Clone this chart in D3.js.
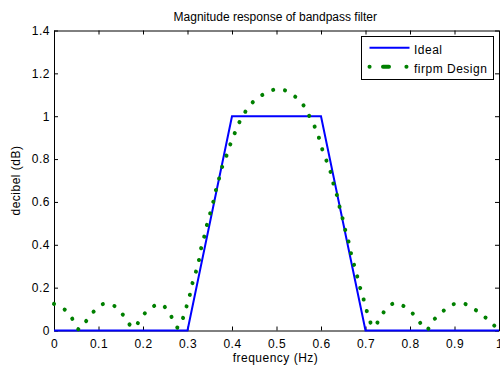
<!DOCTYPE html>
<html>
<head>
<meta charset="utf-8">
<script src="https://cdn.jsdelivr.net/npm/d3@7"></script>
<style>
    body { margin: 0; background: #fff; }
    svg { font-family: "Liberation Sans", Arial, sans-serif; }
    .axis text { font-size: 12px; fill: #000; letter-spacing: 0.5px; }
    .axis path, .axis line { stroke: #000; }
</style>
</head>
<body>
<svg id="filter-vis" width="500" height="368">
    <g id="x-axis" class="axis"></g>
    <g id="y-axis" class="axis"></g>
    <g id="x-axis-top" class="axis"></g>
    <g id="y-axis-right" class="axis"></g>
</svg>
<script>
// ideal bandpass response
const idealFreq = [0, 0.3, 0.4, 0.6, 0.7, 1];
const idealMag = [0, 0, 1, 1, 0, 0];

// firpm design
const firpmFreq = [0, 0.025, 0.042, 0.056, 0.073, 0.09, 0.111, 0.136, 0.154, 0.169, 0.177, 0.184,
    0.199, 0.218, 0.24, 0.26, 0.265, 0.278, 0.288, 0.296, 0.304, 0.31, 0.318, 0.325, 0.330,
    0.337, 0.343, 0.351, 0.358, 0.364, 0.371, 0.378, 0.388, 0.397, 0.407, 0.418, 0.431, 0.448,
    0.468, 0.491, 0.505, 0.52, 0.545, 0.563, 0.575, 0.587, 0.596, 0.604, 0.614, 0.623, 0.629,
    0.637, 0.643, 0.650, 0.656, 0.664, 0.669, 0.677, 0.684, 0.691, 0.699, 0.706, 0.718, 0.729,
    0.743, 0.764, 0.781, 0.802, 0.820, 0.837, 0.852, 0.872, 0.892, 0.918, 0.941, 0.963, 0.980, 1];
const firpmMag = [0.124, 0.096, 0.052, 0.005, 0.046, 0.09, 0.124, 0.114, 0.076, 0.03, 0.012, 0.022,
    0.068, 0.106, 0.123, 0.08, 0.06, 0.013, 0.048, 0.1, 0.155, 0.212, 0.267, 0.321, 0.379,
    0.433, 0.488, 0.547, 0.601, 0.656, 0.71, 0.764, 0.818, 0.873, 0.925, 0.978, 1.024, 1.068,
    1.099, 1.122, 1.125, 1.12, 1.086, 1.044, 0.995, 0.946, 0.895, 0.838, 0.783, 0.730, 0.676,
    0.622, 0.566, 0.511, 0.456, 0.399, 0.344, 0.287, 0.232, 0.176, 0.124, 0.068, 0.015, 0.044,
    0.091, 0.127, 0.119, 0.088, 0.044, 0.002, 0.046, 0.086, 0.118, 0.127, 0.104, 0.072, 0.041, 0.002];

const xTicks = [0, 0.1, 0.2, 0.3, 0.4, 0.5, 0.6, 0.7, 0.8, 0.9, 1];
const yTicks = [0, 0.2, 0.4, 0.6, 0.8, 1, 1.2, 1.4];
const legendLabels = ["Ideal", "firpm Design"];

class FilterPlot {
    constructor() {
        this.svg = d3.select("svg#filter-vis");
        this.bounds = {
            minX: 54,
            maxX: 499,
            minY: 30.5,
            maxY: 330.5,
        };

        this.updateXScale();
        this.updateYScale();
        this.updateAxes();
        this.updateLabels();
        this.updateLines();
        this.updateLegend();
    }

    updateXScale() {
        this.scaleX = d3.scaleLinear().domain([0, 1]).range([this.bounds.minX, this.bounds.maxX]);
    }

    updateYScale() {
        this.scaleY = d3.scaleLinear().domain([0, 1.4]).range([this.bounds.maxY, this.bounds.minY]);
    }

    updateAxes() {
        let b = this.bounds;
        let fmt = d => d3.format("")(d);

        this.svg.select("g#x-axis")
            .attr("transform", `translate(0 ${b.maxY})`)
            .call(d3.axisBottom(this.scaleX).tickValues(xTicks).tickFormat(fmt)
                .tickSizeInner(-4).tickSizeOuter(0).tickPadding(8.5));

        this.svg.select("g#y-axis")
            .attr("transform", `translate(${b.minX} 0)`)
            .call(d3.axisLeft(this.scaleY).tickValues(yTicks).tickFormat(fmt)
                .tickSizeInner(-4).tickSizeOuter(0).tickPadding(4));

        this.svg.select("g#x-axis-top")
            .attr("transform", `translate(0 ${b.minY})`)
            .call(d3.axisTop(this.scaleX).tickValues(xTicks).tickFormat("")
                .tickSizeInner(-4).tickSizeOuter(0));

        this.svg.select("g#y-axis-right")
            .attr("transform", `translate(${b.maxX} 0)`)
            .call(d3.axisRight(this.scaleY).tickValues(yTicks).tickFormat("")
                .tickSizeInner(-4).tickSizeOuter(0));
    }

    updateLabels() {
        let b = this.bounds;
        this.svg.append("text")
            .attr("x", 275.3).attr("y", 20.5)
            .attr("text-anchor", "middle")
            .attr("font-size", 12)
            .text("Magnitude response of bandpass filter");

        this.svg.append("text")
            .attr("x", 275.5).attr("y", 362)
            .attr("text-anchor", "middle")
            .attr("font-size", 12)
            .attr("letter-spacing", 0.5)
            .text("frequency (Hz)");

        this.svg.append("text")
            .attr("transform", `translate(19.5 ${(b.minY + b.maxY) / 2}) rotate(-90)`)
            .attr("text-anchor", "middle")
            .attr("font-size", 12)
            .attr("letter-spacing", 0.5)
            .text("decibel (dB)");
    }

    updateLines() {
        let line = d3.line()
            .x(d => this.scaleX(d[0]))
            .y(d => this.scaleY(d[1]));

        this.svg.append("path")
            .datum(idealFreq.map((f, i) => [f, idealMag[i]]))
            .attr("d", line)
            .attr("fill", "none")
            .attr("stroke", "#0000ff")
            .attr("stroke-width", 2);

        this.svg.append("path")
            .datum(firpmFreq.map((f, i) => [f, firpmMag[i]]))
            .attr("d", line.curve(d3.curveCatmullRom.alpha(0.5)))
            .attr("fill", "none")
            .attr("stroke", "#008000")
            .attr("stroke-width", 4)
            .attr("stroke-linecap", "round")
            .attr("stroke-dasharray", "0.1 11.9");
    }

    updateLegend() {
        let g = this.svg.append("g");
        g.append("rect")
            .attr("x", 361.5).attr("y", 36.5)
            .attr("width", 132).attr("height", 43)
            .attr("fill", "#fff").attr("stroke", "#000");

        let styles = [
            { stroke: "#0000ff", width: 2, dash: null, cap: "butt" },
            { stroke: "#008000", width: 4, dash: "0.1 13.4 6 17.4 0.1 100", cap: "round" },
        ];
        legendLabels.forEach((label, i) => {
            let y = 47.7 + i * 19;
            g.append("line")
                .attr("x1", 369.5).attr("x2", 409.5)
                .attr("y1", y).attr("y2", y)
                .attr("stroke", styles[i].stroke)
                .attr("stroke-width", styles[i].width)
                .attr("stroke-linecap", styles[i].cap)
                .attr("stroke-dasharray", styles[i].dash);
            g.append("text")
                .attr("x", 414).attr("y", y + 6.3)
                .attr("font-size", 12)
                .attr("letter-spacing", 0.5)
                .text(label);
        });
    }
}

new FilterPlot();
</script>
</body>
</html>
